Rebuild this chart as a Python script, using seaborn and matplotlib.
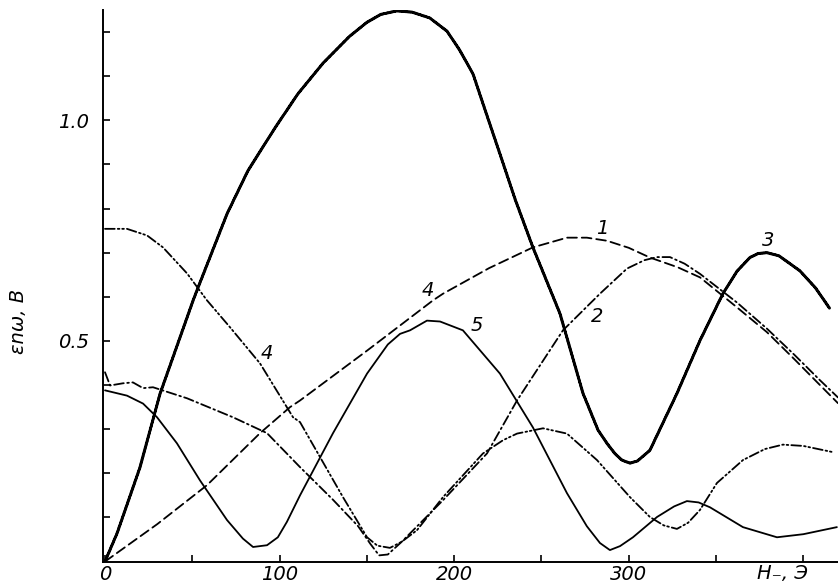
import matplotlib
matplotlib.use('Agg')
import matplotlib.pyplot as plt
import numpy as np
import pandas as pd
import seaborn as sns

# values: H (Oe) and e_nw (V)
h1 = [0, 30.0, 58.4, 88.8, 106.0, 111.7, 150.1, 187.9, 193.6, 220.0, 245.1, 264.6, 276.0, 287.5, 300.0, 312.1,
      328.0, 340.8, 362.0, 379.1, 395.0, 409.5, 419.8]
v1 = [0, 0.085, 0.173, 0.291, 0.350, 0.365, 0.478, 0.592, 0.607, 0.665, 0.712, 0.734, 0.734, 0.727, 0.711, 0.689,
      0.667, 0.644, 0.576, 0.520, 0.458, 0.400, 0.359]

h2 = [0, 2.9, 10.3, 16.0, 21.8, 27.5, 47.0, 73.3, 92.8, 111.7, 130.6, 145.0, 152.0, 157.0, 162.0, 170.0, 193.6, 218.8,
      236.0, 262.3, 283.5, 299.0, 309.0, 316.2, 323.6, 332.0, 340.8, 362.0, 379.1, 395.0, 409.5, 419.8]
v2 = [0.429, 0.399, 0.404, 0.406, 0.393, 0.395, 0.370, 0.327, 0.291, 0.214, 0.140, 0.080, 0.040, 0.014, 0.016, 0.045, 0.139, 0.245,
      0.365, 0.524, 0.607, 0.664, 0.683, 0.690, 0.690, 0.675, 0.652, 0.587, 0.528, 0.468, 0.411, 0.372]

h3 = [0, 6.9, 20.0, 31.5, 50.4, 53.3, 69.9, 81.9, 97.4, 110.5, 125.0, 140.0, 150.0, 158.0, 167.2, 176.0, 186.0, 195.9,
      203.0, 210.8, 218.0, 226.2, 235.0, 245.1, 260.6, 273.8, 282.4, 287.5, 292.0, 296.0, 300.7, 305.0, 312.1, 327.6,
      340.8, 353.9, 362.0, 369.4, 374.0, 379.1, 386.0, 398.0, 407.0, 415.2]
v3 = [0, 0.064, 0.213, 0.380, 0.591, 0.621, 0.788, 0.886, 0.983, 1.060, 1.130, 1.190, 1.222, 1.240, 1.248, 1.245, 1.232, 1.202,
      1.160, 1.105, 1.020, 0.924, 0.820, 0.712, 0.562, 0.381, 0.298, 0.268, 0.245, 0.230, 0.223, 0.228, 0.252, 0.381,
      0.501, 0.607, 0.658, 0.689, 0.698, 0.700, 0.693, 0.659, 0.620, 0.573]

h4 = [0, 12.6, 24.1, 33.2, 47.0, 58.4, 71.6, 88.8, 107.7, 111.7, 136.3, 150.1, 156.0, 163.2, 170.0, 178.7, 193.6, 216.5,
      228.0, 236.0, 250.9, 264.6, 281.8, 300.7, 312.1, 320.0, 327.6, 334.0, 340.8, 350.5, 365.4, 378.0, 388.3, 400.0, 416.9]
v4 = [0.754, 0.754, 0.739, 0.712, 0.653, 0.592, 0.531, 0.449, 0.327, 0.316, 0.146, 0.055, 0.036, 0.031, 0.045, 0.071, 0.146, 0.245,
      0.275, 0.290, 0.302, 0.290, 0.230, 0.146, 0.101, 0.082, 0.074, 0.088, 0.117, 0.178, 0.230, 0.255, 0.265, 0.262, 0.248]

h5 = [0, 12.6, 21.8, 29.8, 41.2, 54.4, 69.9, 79.0, 84.8, 92.8, 99.0, 104.2, 111.7, 130.6, 150.1, 162.0, 169.0, 174.7, 184.4,
      191.9, 205.0, 226.2, 245.1, 264.6, 276.0, 283.5, 289.2, 295.0, 302.4, 316.2, 326.0, 333.3, 340.0, 346.5, 365.4, 384.9,
      400.0, 419.2]
v5 = [0.388, 0.376, 0.358, 0.327, 0.268, 0.184, 0.094, 0.052, 0.033, 0.037, 0.055, 0.090, 0.150, 0.291, 0.426, 0.492, 0.516, 0.524, 0.546,
      0.544, 0.524, 0.426, 0.304, 0.155, 0.080, 0.042, 0.026, 0.035, 0.055, 0.101, 0.125, 0.137, 0.134, 0.123, 0.078, 0.055,
      0.062, 0.078]

curve_labels = ['1', '2', '3', '4', '4', '5']
label_h = [284.6, 281.8, 379.7, 92.8, 185.0, 213.0]
label_v = [0.755, 0.555, 0.727, 0.471, 0.614, 0.535]

x_major = [0, 100, 200, 300]
x_minor = [50, 150, 250, 350, 400]
y_major = [0.5, 1.0]
y_minor = [0.1, 0.2, 0.3, 0.4, 0.6, 0.7, 0.8, 0.9, 1.1, 1.2]

sns.set_style('ticks')
plt.rcParams['font.family'] = ['DejaVu Sans']
plt.rcParams['lines.scale_dashes'] = False
for k in ['text.color', 'axes.labelcolor', 'xtick.color', 'ytick.color']:
    plt.rcParams[k] = 'black'

fig = plt.figure(figsize=(8.38, 5.87), dpi=100)
ax = fig.add_axes([0.1229, 0.0426, 0.877, 0.9404])

styles = [
    (h1, v1, (0, (7, 3.5)), 1.3),
    (h2, v2, (0, (7, 2.5, 1.2, 2.5)), 1.3),
    (h3, v3, (0, (0.5, 0.9)), 2.2),
    (h4, v4, (0, (7, 2.2, 1.2, 2, 1.2, 2.2)), 1.3),
    (h5, v5, '-', 1.3),
]
for h, v, ls, lw in styles:
    df = pd.DataFrame({'H': h, 'V': v})
    sns.lineplot(data=df, x='H', y='V', ax=ax, color='black', linewidth=lw,
                 linestyle=ls, estimator=None, sort=False,
                 dash_capstyle='round', solid_joinstyle='round', dash_joinstyle='round')

for t, hx, vy in zip(curve_labels, label_h, label_v):
    ax.text(hx, vy, t, fontsize=14, style='italic', ha='center', va='center')

ax.set_xlim(-1.15, 419.8)
ax.set_ylim(-0.001, 1.25)
ax.set_xticks(x_major)
ax.set_xticks(x_minor, minor=True)
ax.set_xticklabels([str(x) for x in x_major], fontsize=14, style='italic')
ax.set_yticks(y_major)
ax.set_yticks(y_minor, minor=True)
ax.set_yticklabels(['0.5', '1.0'], fontsize=14, style='italic')
ax.tick_params(which='both', direction='in', length=5, width=1.2, color='black')
ax.tick_params(axis='x', pad=2)
ax.tick_params(axis='y', pad=10)

ax.set_xlabel('')
ax.set_ylabel('εnω, В', fontsize=14, style='italic')
ax.yaxis.set_label_coords(-0.102, 0.435)
ax.text(388, -0.026, 'H₋, Э', fontsize=14, style='italic', ha='center', va='center', clip_on=False)

sns.despine(ax=ax)
for s in ['left', 'bottom']:
    ax.spines[s].set_linewidth(1.4)
    ax.spines[s].set_color('black')

fig.savefig('out.png', dpi=100)
